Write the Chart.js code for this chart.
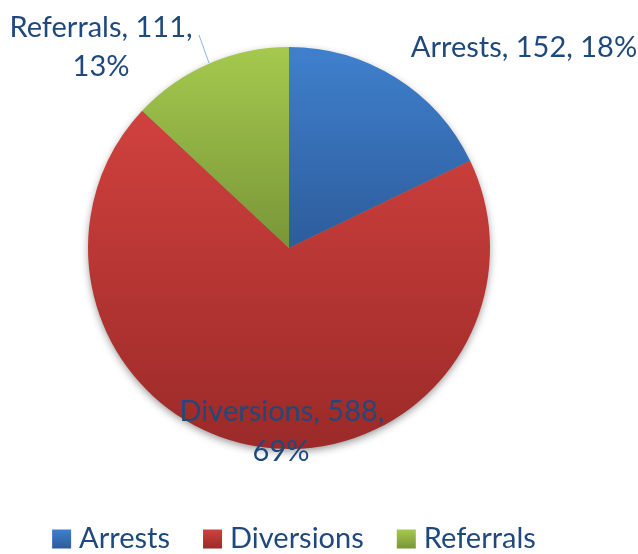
<!DOCTYPE html>
<html><head><meta charset="utf-8">
<script src="https://cdn.jsdelivr.net/npm/chart.js@4"></script>
<style>html,body{margin:0;padding:0;background:#fff;}canvas{display:block;}</style>
</head><body>
<canvas id="c" width="638" height="554"></canvas>
<script>
const categories = ["Arrests", "Diversions", "Referrals"];
const values = [152, 588, 111];
const topColors = ["#3f80cd", "#d0413e", "#a5c94e"];
const bottomColors = ["#2d5c9c", "#9b2a28", "#789638"];
const flatColors = ["#4f81bd", "#c0504d", "#9bbb59"];
const textColor = "#1f497d";
const FONT = "Lato, 'Open Sans', sans-serif";
const FS = 29;

const total = values.reduce((a, b) => a + b, 0);
const percents = values.map(v => Math.round(v / total * 100));

// label lines (which line break) and offsets from the pie centre (px)
const labelLines = [
  [`${categories[0]}, ${values[0]}, ${percents[0]}%`],
  [`${categories[1]}, ${values[1]},`, `${percents[1]}%`],
  [`${categories[2]}, ${values[2]},`, `${percents[2]}%`]
];
const labelOffsets = [
  [[235, -200]],
  [[-7, 164], [-8, 204]],
  [[-188, -220], [-188, -181]]
];
const leader = [[-90, -213], [-80, -185]];

function geom(chart) {
  const a = chart.chartArea;
  return {cx: (a.left + a.right) / 2, cy: (a.top + a.bottom) / 2, r: Math.min(a.width, a.height) / 2};
}

function sliceFill(context) {
  const chart = context.chart;
  const i = context.dataIndex;
  if (!chart.chartArea) return flatColors[i];
  const {cx, cy, r} = geom(chart);
  let before = 0;
  for (let k = 0; k < i; k++) before += values[k];
  const s = -Math.PI / 2 + before / total * 2 * Math.PI;
  const e = s + values[i] / total * 2 * Math.PI;
  const ys = [cy, cy + r * Math.sin(s), cy + r * Math.sin(e)];
  for (let t = -Math.PI / 2; t <= 3 * Math.PI / 2 + 1e-6; t += Math.PI) {
    for (const tt of [t, t + 2 * Math.PI, t - 2 * Math.PI]) {
      if (tt >= s && tt <= e) ys.push(cy + r * Math.sin(tt));
    }
  }
  const y0 = Math.min(...ys), y1 = Math.max(...ys);
  const g = chart.ctx.createLinearGradient(0, y0, 0, y1);
  g.addColorStop(0, topColors[i]);
  g.addColorStop(1, bottomColors[i]);
  return g;
}

const shadowPlugin = {
  id: 'shadow',
  beforeDatasetsDraw(chart) {
    const {cx, cy, r} = geom(chart);
    const ctx = chart.ctx;
    ctx.save();
    ctx.shadowColor = 'rgba(0,0,0,0.45)';
    ctx.shadowBlur = 8;
    ctx.shadowOffsetY = 3;
    ctx.fillStyle = '#888';
    ctx.beginPath();
    ctx.arc(cx, cy, r - 1, 0, Math.PI * 2);
    ctx.fill();
    ctx.restore();
  }
};

const labelPlugin = {
  id: 'labels',
  afterDatasetsDraw(chart) {
    const {cx, cy} = geom(chart);
    const ctx = chart.ctx;
    ctx.save();
    ctx.strokeStyle = '#8db3e2';
    ctx.lineWidth = 1;
    ctx.beginPath();
    ctx.moveTo(cx + leader[0][0], cy + leader[0][1]);
    ctx.lineTo(cx + leader[1][0], cy + leader[1][1]);
    ctx.stroke();
    ctx.fillStyle = textColor;
    ctx.font = `${FS}px ${FONT}`;
    ctx.textAlign = 'center';
    ctx.textBaseline = 'middle';
    labelLines.forEach((lines, i) => {
      lines.forEach((txt, j) => {
        const o = labelOffsets[i][j];
        ctx.fillText(txt, cx + o[0], cy + o[1]);
      });
    });
    ctx.restore();
  }
};

const legendPlugin = {
  id: 'customLegend',
  afterDraw(chart) {
    const ctx = chart.ctx;
    ctx.save();
    ctx.font = `${FS}px ${FONT}`;
    ctx.textBaseline = 'middle';
    ctx.textAlign = 'left';
    const box = 19, gapBox = 8, gapItem = 33;
    const widths = categories.map(c => box + gapBox + ctx.measureText(c).width);
    const totalW = widths.reduce((a, b) => a + b, 0) + gapItem * (categories.length - 1);
    let x = 294 - totalW / 2;
    const y = 539;
    categories.forEach((c, i) => {
      const g = ctx.createLinearGradient(0, y - box / 2, 0, y + box / 2);
      g.addColorStop(0, topColors[i]);
      g.addColorStop(1, bottomColors[i]);
      ctx.fillStyle = g;
      ctx.fillRect(x, y - box / 2, box, box);
      ctx.fillStyle = textColor;
      ctx.fillText(c, x + box + gapBox, y);
      x += widths[i] + gapItem;
    });
    ctx.restore();
  }
};

new Chart(document.getElementById('c'), {
  type: 'pie',
  data: {
    labels: categories,
    datasets: [{
      data: values,
      backgroundColor: sliceFill,
      borderWidth: 0,
      hoverOffset: 0
    }]
  },
  options: {
    responsive: false,
    animation: false,
    layout: {padding: {left: 88, top: 47, right: 148, bottom: 105}},
    plugins: {legend: {display: false}, tooltip: {enabled: false}}
  },
  plugins: [shadowPlugin, labelPlugin, legendPlugin]
});
</script>
</body></html>
